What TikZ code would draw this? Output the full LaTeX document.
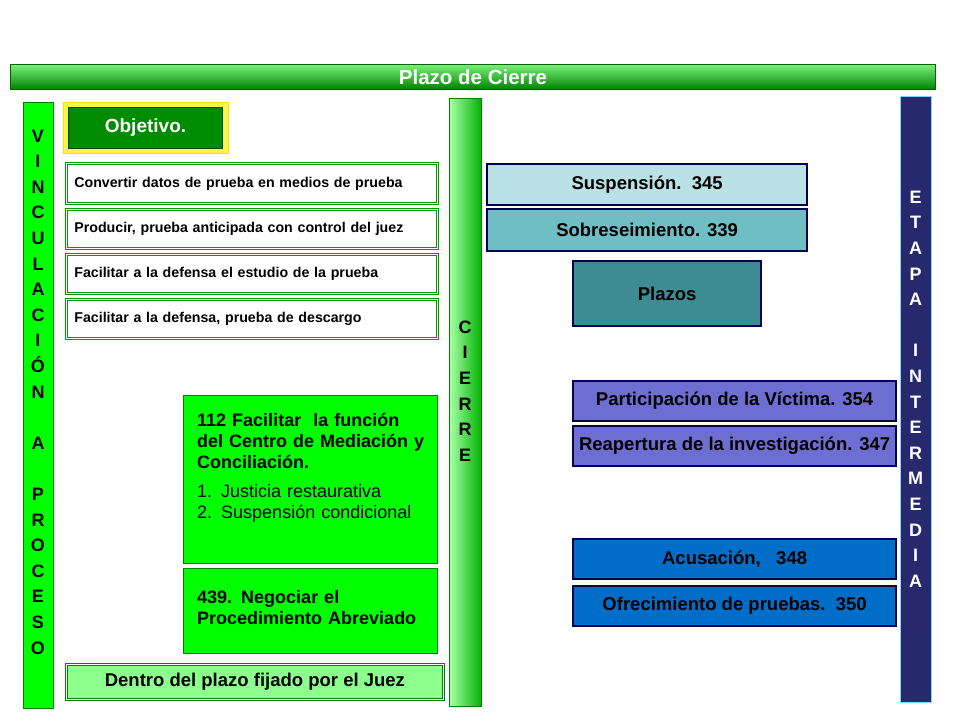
\documentclass[tikz,border=0pt]{standalone}
\usepackage{fontspec}
\setmainfont{Liberation Sans}
\begin{document}
\begin{tikzpicture}[x=1pt,y=-1pt,
  every node/.style={font=\bfseries},
  wbox/.style={draw=green!60!black,double=white,double distance=1.2pt,line width=0.7pt,fill=white,anchor=north west,align=left,text width=355pt,inner xsep=7pt,font=\fontsize{14.2}{16}\selectfont\bfseries},
  bbox/.style={draw=blue!30!black,line width=2.2pt,anchor=north west,align=center,inner xsep=1pt,font=\fontsize{18.5}{21}\selectfont\bfseries},
  gbox/.style={draw=green!50!black,line width=1pt,fill=green,anchor=north west},
  gtext/.style={anchor=north west,align=left,text width=240pt,inner sep=0pt,font=\fontsize{18}{21}\selectfont\bfseries},
  col/.style={anchor=north west},
  letters/.style={align=center,font=\fontsize{18}{25.6}\selectfont\bfseries}]
\definecolor{gA}{RGB}{0,130,0}\definecolor{gB}{RGB}{120,240,120}
\definecolor{c1}{RGB}{185,225,230}\definecolor{c2}{RGB}{110,190,195}\definecolor{c3}{RGB}{60,140,145}
\definecolor{c4}{RGB}{110,110,210}\definecolor{c5}{RGB}{0,110,200}\definecolor{navy}{RGB}{40,40,110}
\useasboundingbox (0,0) rectangle (960,720);
% title
\node[anchor=north west,minimum width=925pt,minimum height=25pt,draw=green!40!black,line width=1pt,top color=gB,bottom color=gA,text=white,inner ysep=0pt,font=\fontsize{20.5}{22}\selectfont\bfseries] (title) at (10,64) {Plazo de Cierre};
% left column
\node[col,minimum width=30pt,minimum height=606pt,fill=green,draw=green!50!black,line width=1pt] (vinc) at (23,102) {};
\node[letters] (vinct) at (38,392) {V\\I\\N\\C\\U\\L\\A\\C\\I\\Ó\\N\\[25.6pt]A\\[25.6pt]P\\R\\O\\C\\E\\S\\O};
% objetivo
\node[anchor=north west,minimum width=165pt,minimum height=51pt,fill=yellow!70,draw=yellow!80!orange] (objo) at (63,102) {};
\node[anchor=north west,minimum width=154pt,minimum height=41pt,fill=green!55!black,draw=green!30!black,line width=1pt,text=white,font=\fontsize{19}{21}\selectfont\bfseries] (obj) at (68,107) {Objetivo.};
% white boxes
\node[wbox,minimum width=371pt,minimum height=40pt] (w1) at (66,163) {Convertir datos de prueba en medios de prueba};
\node[wbox,minimum width=371pt,minimum height=39pt] (w2) at (66,209) {Producir, prueba anticipada con control del juez};
\node[wbox,minimum width=371pt,minimum height=39pt] (w3) at (66,254) {Facilitar a la defensa el estudio de la prueba};
\node[wbox,minimum width=371pt,minimum height=39pt] (w4) at (66,299) {Facilitar a la defensa, prueba de descargo};
% green boxes
\node[gbox,minimum width=254pt,minimum height=168pt] (g1) at (183,395) {};
\node[gtext] (g1t) at (197,413) {112 Facilitar \ la función\\del Centro de Mediación y\\Conciliación.\\[8pt]\mdseries 1. Justicia restaurativa\\\mdseries 2. Suspensión condicional};
\node[gbox,minimum width=254pt,minimum height=85pt] (g2) at (183,568) {};
\node[gtext] (g2t) at (197,590) {439. Negociar el\\Procedimiento Abreviado};
\node[anchor=north west,minimum width=377pt,minimum height=35pt,fill=green!45,draw=green!50!black,double=white,double distance=1.2pt,line width=0.8pt,font=\fontsize{18.5}{21}\selectfont\bfseries] (dentro) at (66,664) {Dentro del plazo fijado por el Juez};
% cierre column
\node[col,minimum width=32pt,minimum height=608pt,left color=green!35,right color=green!70!black,draw=green!50!black,line width=1pt] (cierre) at (449,98) {};
\node[letters] (cierret) at (465,391) {C\\I\\E\\R\\R\\E};
% blue boxes
\node[bbox,fill=c1,minimum width=320pt,minimum height=41pt] (b1) at (486,163) {Suspensión.\ \ 345};
\node[bbox,fill=c2,minimum width=320pt,minimum height=42pt] (b2) at (486,208) {Sobreseimiento. 339};
\node[bbox,fill=c3,minimum width=188pt,minimum height=65pt] (b3) at (572,260) {Plazos};
\node[bbox,fill=c4,minimum width=323pt,minimum height=40pt] (b4) at (572,380) {Participación de la Víctima. 354};
\node[bbox,fill=c4,minimum width=323pt,minimum height=40pt] (b5) at (572,425) {Reapertura de la investigación. 347};
\node[bbox,fill=c5,minimum width=323pt,minimum height=40pt] (b6) at (572,538) {Acusación,\ \ \ 348};
\node[bbox,fill=c5,minimum width=323pt,minimum height=40pt] (b7) at (572,585) {Ofrecimiento de pruebas.\ \ 350};
% etapa column
\node[col,minimum width=31pt,minimum height=606pt,fill=navy,draw=cyan!50,line width=1pt] (etapa) at (900,96) {};
\node[letters,text=white] (etapat) at (915.5,389) {E\\T\\A\\P\\A\\[25.6pt]I\\N\\T\\E\\R\\M\\E\\D\\I\\A};
\end{tikzpicture}
\end{document}
